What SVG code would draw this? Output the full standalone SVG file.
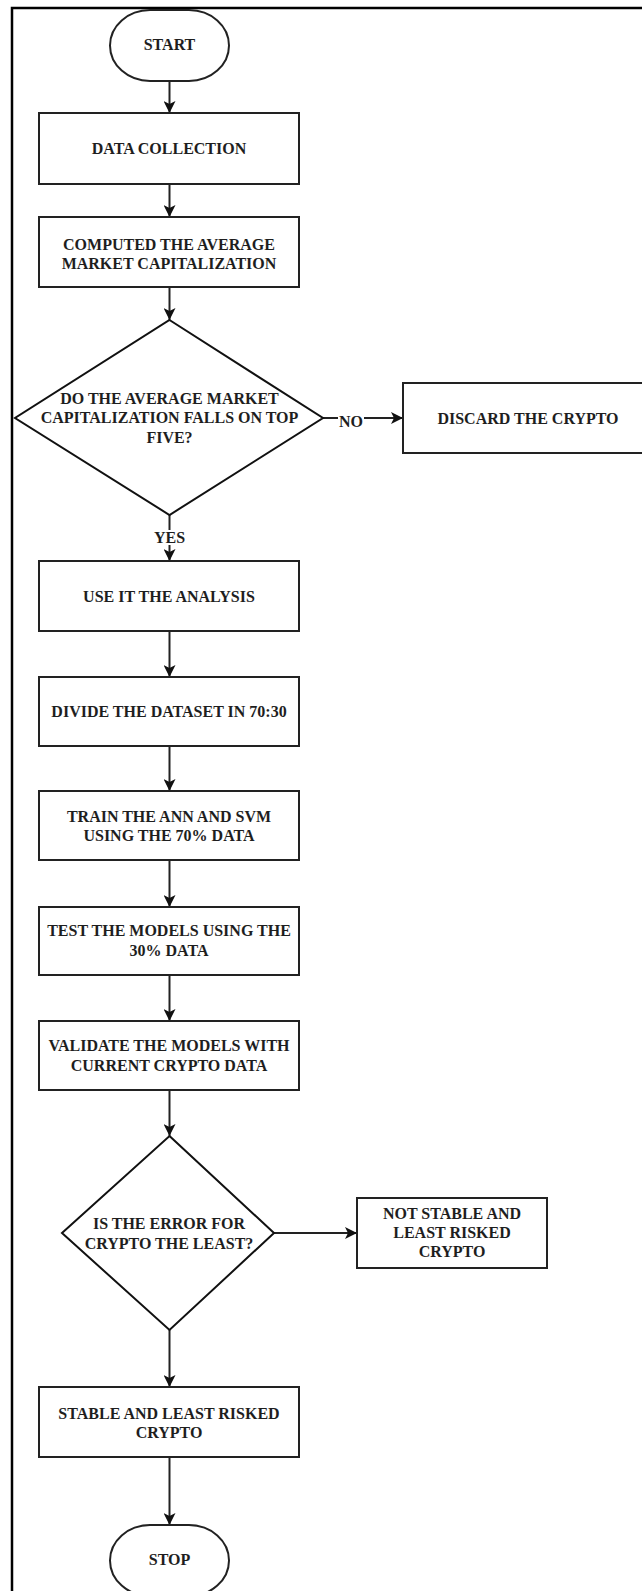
<svg xmlns="http://www.w3.org/2000/svg" width="642" height="1591" viewBox="0 0 642 1591">
<style>
.frame{fill:none;stroke:#000;stroke-width:2.5}
.box{fill:#fff;stroke:#222;stroke-width:2}
.dia{fill:#fff;stroke:#111;stroke-width:2}
.t{font-family:"Liberation Serif","Times New Roman",serif;font-weight:bold;font-size:16px;fill:#1e1e1e;text-anchor:middle}
.edge{fill:none;stroke:#222;stroke-width:2}
.lblbg{fill:#fff}
</style>
<defs>
<marker id="arr" viewBox="0 0 12 12" refX="12" refY="6" markerWidth="12" markerHeight="12" markerUnits="userSpaceOnUse" orient="auto">
<path d="M0,0 L12,6 L0,12 L3,6 z" fill="#111"/>
</marker>
</defs>
<rect class="frame" x="12" y="8" width="700" height="1700"/>

<g id="connectors">
<line class="edge" x1="169.5" y1="81" x2="169.5" y2="113" marker-end="url(#arr)"/>
<line class="edge" x1="169.5" y1="184" x2="169.5" y2="217" marker-end="url(#arr)"/>
<line class="edge" x1="169.5" y1="287" x2="169.5" y2="320" marker-end="url(#arr)"/>
<line class="edge" x1="169.5" y1="515" x2="169.5" y2="561" marker-end="url(#arr)"/>
<line class="edge" x1="323" y1="418" x2="403" y2="418" marker-end="url(#arr)"/>
<line class="edge" x1="169.5" y1="631" x2="169.5" y2="677" marker-end="url(#arr)"/>
<line class="edge" x1="169.5" y1="746" x2="169.5" y2="791" marker-end="url(#arr)"/>
<line class="edge" x1="169.5" y1="860" x2="169.5" y2="907" marker-end="url(#arr)"/>
<line class="edge" x1="169.5" y1="975" x2="169.5" y2="1021" marker-end="url(#arr)"/>
<line class="edge" x1="169.5" y1="1090" x2="169.5" y2="1136" marker-end="url(#arr)"/>
<line class="edge" x1="274" y1="1233" x2="357" y2="1233" marker-end="url(#arr)"/>
<line class="edge" x1="169.5" y1="1330" x2="169.5" y2="1387" marker-end="url(#arr)"/>
<line class="edge" x1="169.5" y1="1457" x2="169.5" y2="1525" marker-end="url(#arr)"/>
<rect class="lblbg" x="153" y="530" width="33" height="15"/>
<text class="t" x="169.5" y="543">YES</text>
<rect class="lblbg" x="338" y="411" width="26" height="15"/>
<text class="t" x="351" y="427">NO</text>
</g>

<g id="start">
<rect class="box" x="110" y="10" width="119" height="71" rx="40" ry="35.5"/>
<text class="t" x="169.5" y="49.5">START</text>
</g>
<g id="data-collection">
<rect class="box" x="39" y="113" width="260" height="71"/>
<text class="t" x="169" y="154">DATA COLLECTION</text>
</g>
<g id="computed">
<rect class="box" x="39" y="217" width="260" height="70"/>
<text class="t" x="169" y="250">COMPUTED THE AVERAGE</text>
<text class="t" x="169" y="268.5">MARKET CAPITALIZATION</text>
</g>
<g id="decision-top-five">
<polygon class="dia" points="169.5,320 323,418 169.5,515 15,418"/>
<text class="t" x="169.5" y="403.5">DO THE AVERAGE MARKET</text>
<text class="t" x="169.5" y="423">CAPITALIZATION FALLS ON TOP</text>
<text class="t" x="169.5" y="442.5">FIVE?</text>
</g>
<g id="discard">
<rect class="box" x="403" y="383" width="250" height="70"/>
<text class="t" x="528" y="423.5">DISCARD THE CRYPTO</text>
</g>
<g id="use-it">
<rect class="box" x="39" y="561" width="260" height="70"/>
<text class="t" x="169" y="601.5">USE IT THE ANALYSIS</text>
</g>
<g id="divide">
<rect class="box" x="39" y="677" width="260" height="69"/>
<text class="t" x="169" y="717">DIVIDE THE DATASET IN 70:30</text>
</g>
<g id="train">
<rect class="box" x="39" y="791" width="260" height="69"/>
<text class="t" x="169" y="821.5">TRAIN THE ANN AND SVM</text>
<text class="t" x="169" y="840.5">USING THE 70% DATA</text>
</g>
<g id="test">
<rect class="box" x="39" y="907" width="260" height="68"/>
<text class="t" x="169" y="935.5">TEST THE MODELS USING THE</text>
<text class="t" x="169" y="955.5">30% DATA</text>
</g>
<g id="validate">
<rect class="box" x="39" y="1021" width="260" height="69"/>
<text class="t" x="169" y="1050.5">VALIDATE THE MODELS WITH</text>
<text class="t" x="169" y="1070.5">CURRENT CRYPTO DATA</text>
</g>
<g id="decision-error">
<polygon class="dia" points="169.5,1136 274,1233 169.5,1330 62,1233"/>
<text class="t" x="169" y="1228.5">IS THE ERROR FOR</text>
<text class="t" x="169" y="1248.5">CRYPTO THE LEAST?</text>
</g>
<g id="not-stable">
<rect class="box" x="357" y="1198" width="190" height="70"/>
<text class="t" x="452" y="1218.5">NOT STABLE AND</text>
<text class="t" x="452" y="1237.5">LEAST RISKED</text>
<text class="t" x="452" y="1256.5">CRYPTO</text>
</g>
<g id="stable">
<rect class="box" x="39" y="1387" width="260" height="70"/>
<text class="t" x="169" y="1418.5">STABLE AND LEAST RISKED</text>
<text class="t" x="169" y="1437.5">CRYPTO</text>
</g>
<g id="stop">
<rect class="box" x="110" y="1525" width="119" height="71" rx="40" ry="35.5"/>
<text class="t" x="169.5" y="1564.5">STOP</text>
</g>
</svg>
